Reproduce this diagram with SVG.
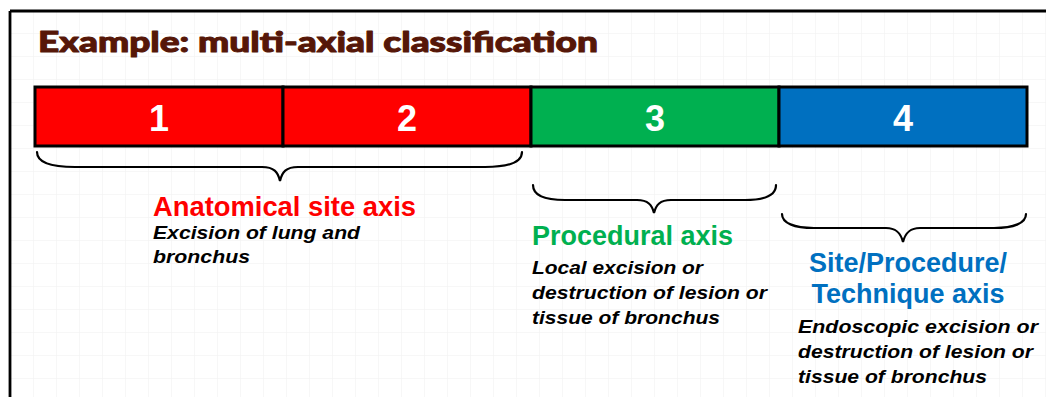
<svg xmlns="http://www.w3.org/2000/svg" width="1046" height="397" viewBox="0 0 1046 397">
<style>
.num{font-family:"Liberation Sans",Arial,sans-serif;font-weight:bold;font-size:36px;fill:#ffffff;text-anchor:middle}
.axis{font-family:"Liberation Sans",Arial,sans-serif;font-weight:bold;font-size:27px}
.desc{font-family:"Liberation Sans",Arial,sans-serif;font-weight:bold;font-style:italic;font-size:19px;fill:#000000}
.seg{stroke:#000000;stroke-width:3}
.brace{fill:none;stroke:#000000;stroke-width:2.2;stroke-linecap:round}
</style>
<defs>
<pattern id="grid" x="10" y="10" width="23" height="23" patternUnits="userSpaceOnUse">
<path d="M0,0 H23 M0,0 V23" fill="none" stroke="#f0f0f0" stroke-width="1"/>
</pattern>
</defs>
<rect x="0" y="0" width="1046" height="397" fill="#ffffff"/>
<rect x="10" y="11" width="1036" height="386" fill="url(#grid)"/>
<path d="M10,11 H1046 M10,11 V397" fill="none" stroke="#000000" stroke-width="2.8"/>
<text x="38" y="52" font-family="Lato,'Open Sans',sans-serif" font-weight="900" font-size="29" fill="#561708" stroke="#561708" stroke-width="1" stroke-linejoin="round" textLength="560" lengthAdjust="spacingAndGlyphs">Example: multi-axial classification</text>

<g id="seg1"><rect class="seg" x="35" y="87" width="248" height="59" fill="#ff0000"/><text class="num" x="159" y="131">1</text></g>
<g id="seg2"><rect class="seg" x="283" y="87" width="248" height="59" fill="#ff0000"/><text class="num" x="407" y="131">2</text></g>
<g id="seg3"><rect class="seg" x="531" y="87" width="248" height="59" fill="#00b050"/><text class="num" x="655" y="131">3</text></g>
<g id="seg4"><rect class="seg" x="779" y="87" width="248" height="59" fill="#0070c0"/><text class="num" x="903" y="131">4</text></g>

<g id="connectors">
<path class="brace" d="M37,152 C37,162 50,167 75,167 L262,167 C274,167 278,172 280,181 C282,172 286,167 298,167 L485,167 C510,167 522,162 522,152"/>
<path class="brace" d="M533,185 C533,195 545,200 565,200 L637,200 C648,200 652,205 654,213 C656,205 660,200 671,200 L745,200 C765,200 776,195 776,185"/>
<path class="brace" d="M782,214 C782,223 794,228 814,228 L886,228 C897,228 901,234 903,242 C905,234 909,228 920,228 L994,228 C1014,228 1026,223 1026,214"/>
</g>

<g id="anatomical">
<text class="axis" x="153" y="216" fill="#ff0000" textLength="263" lengthAdjust="spacingAndGlyphs">Anatomical site axis</text>
<text class="desc" x="153" y="239" textLength="207" lengthAdjust="spacingAndGlyphs">Excision of lung and</text>
<text class="desc" x="153" y="263" textLength="97" lengthAdjust="spacingAndGlyphs">bronchus</text>
</g>
<g id="procedural">
<text class="axis" x="532" y="245" fill="#00b050" textLength="201" lengthAdjust="spacingAndGlyphs">Procedural axis</text>
<text class="desc" x="532" y="274" textLength="171" lengthAdjust="spacingAndGlyphs">Local excision or</text>
<text class="desc" x="532" y="299" textLength="235" lengthAdjust="spacingAndGlyphs">destruction of lesion or</text>
<text class="desc" x="532" y="324" textLength="188" lengthAdjust="spacingAndGlyphs">tissue of bronchus</text>
</g>
<g id="technique">
<text class="axis" x="908" y="272" fill="#0070c0" text-anchor="middle">Site/Procedure/</text>
<text class="axis" x="908" y="303" fill="#0070c0" text-anchor="middle">Technique axis</text>
<text class="desc" x="798" y="333" textLength="240" lengthAdjust="spacingAndGlyphs">Endoscopic excision or</text>
<text class="desc" x="798" y="358" textLength="235" lengthAdjust="spacingAndGlyphs">destruction of lesion or</text>
<text class="desc" x="798" y="383" textLength="189" lengthAdjust="spacingAndGlyphs">tissue of bronchus</text>
</g>
</svg>
